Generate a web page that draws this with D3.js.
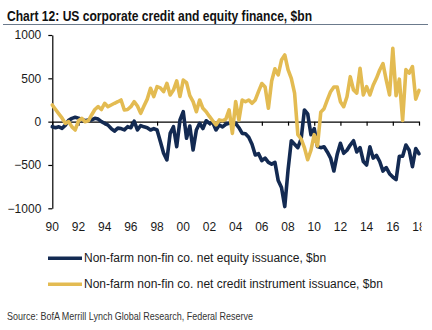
<!DOCTYPE html>
<html>
<head>
<meta charset="utf-8">
<script src="https://cdn.jsdelivr.net/npm/d3@7"></script>
<style>
  html, body { margin: 0; padding: 0; background: #ffffff; }
  svg { display: block; }
  text { font-family: "Liberation Sans", Arial, sans-serif; }
</style>
</head>
<body>
<svg id="chart" width="432" height="330"></svg>
<script>
// ---- Data (quarterly, starting 1990 Q1) ----
const startYear = 1990;
const equity = [
  -58, -70, -60, -77,      // 1990
  -40, 15, 38, 50,         // 1991
  40, 25, 10, 20,          // 1992
  20, 38, 30, 0,           // 1993
  -19, -40, -80, -110,     // 1994
  -75, -80, -95, -58,      // 1995
  -70, 5, -96, -45,        // 1996
  -60, -70, -96, -80,      // 1997
  -96, -230, -365, -442,   // 1998
  -135, -58, -288, 20,     // 1999
  115, -192, -50, -327,    // 2000
  -96, -19, -80, 10,       // 2001
  -20, -10, -96, -38,      // 2002
  -60, -30, -20, -10,      // 2003
  -20, -70, -135, -140,    // 2004
  -180, -260, -385, -370,  // 2005
  -450, -420, -470, -490,  // 2006
  -470, -680, -760, -980,  // 2007
  -560, -220, -260, -300,  // 2008
  -200, 135, 90, -150,     // 2009
  -80, -288, -300, -290,   // 2010
  -350, -420, -570, -380,  // 2011
  -250, -365, -330, -270,  // 2012
  -220, -350, -300, -460,  // 2013
  -500, -290, -420, -390,  // 2014
  -460, -570, -530, -600,  // 2015
  -640, -670, -400, -400,  // 2016
  -270, -330, -520, -310,  // 2017
  -370                     // 2018
];
const credit = [
  192, 140, 90, 40,        // 1990
  -20, 0, -60, -96,        // 1991
  10, 38, 0, 10,           // 1992
  77, 140, 173, 140,       // 1993
  212, 173, 192, 212,      // 1994
  230, 250, 135, 140,      // 1995
  173, 231, 180, 96,       // 1996
  180, 260, 385, 290,      // 1997
  404, 390, 346, 442,      // 1998
  308, 365, 470, 290,      // 1999
  480, 450, 300, 231,      // 2000
  115, 250, 154, 115,      // 2001
  60, 10, -38, 20,         // 2002
  10, 30, 135, -135,       // 2003
  231, 19, 250, 230,       // 2004
  250, 212, 250, 350,      // 2005
  440, 400, 154, 470,      // 2006
  610, 540, 711, 770,      // 2007
  600, 500, 330, -150,     // 2008
  -200, -300, -440, -330,  // 2009
  -150, -280, 110, 150,    // 2010
  250, 346, 400, 400,      // 2011
  230, 173, 288, 519,      // 2012
  365, 330, 615, 308,      // 2013
  404, 308, 420, 500,      // 2014
  596, 670, 480, 308,      // 2015
  846, 300, 490, 15,       // 2016
  600, 560, 635, 260,      // 2017
  360                      // 2018
];
const xTickYears = [1990, 1992, 1994, 1996, 1998, 2000, 2002, 2004, 2006, 2008, 2010, 2012, 2014, 2016, 2018];
const xTickLabels = ["90", "92", "94", "96", "98", "00", "02", "04", "06", "08", "10", "12", "14", "16", "18"];
const yTicks = [-1000, -500, 0, 500, 1000];
const seriesNames = [
  "Non-farm non-fin co. net equity issuance, $bn",
  "Non-farm non-fin co. net credit instrument issuance, $bn"
];
const titleText = "Chart 12: US corporate credit and equity finance, $bn";
const sourceText = "Source: BofA Merrill Lynch Global Research, Federal Reserve";

// ---- Styles ----
const navy = "#132a52";
const gold = "#e3bb52";
const textColor = "#1a1a1a";

const svg = d3.select("#chart");

// clip for the right edge (reference image is cropped at ~x=422)
const defs = svg.append("defs");
defs.append("clipPath").attr("id", "rightClip")
  .append("rect").attr("x", 0).attr("y", 0).attr("width", 421.5).attr("height", 330);

// Title
svg.append("text")
  .attr("x", 7).attr("y", 20.5)
  .attr("font-family", "'Liberation Sans Narrow', 'Arial Narrow', 'Liberation Sans', Arial, sans-serif")
  .attr("font-weight", "bold")
  .attr("font-size", 15)
  .attr("fill", "#111")
  .attr("textLength", 305)
  .attr("lengthAdjust", "spacingAndGlyphs")
  .text(titleText);

svg.append("line")
  .attr("x1", 3).attr("x2", 428).attr("y1", 24.5).attr("y2", 24.5)
  .attr("stroke", "#6b7a8c").attr("stroke-width", 1);

// Scales
const x = d3.scaleLinear().domain([1990, 2018]).range([52.3, 419]);
const y = d3.scaleLinear().domain([-1000, 1000]).range([208.3, 35]);

// Y axis
const yAxis = svg.append("g")
  .attr("transform", `translate(${x(1990)},0)`)
  .call(d3.axisLeft(y).tickValues(yTicks).tickSize(4).tickSizeOuter(0).tickPadding(7)
    .tickFormat(d3.format("d")));
yAxis.select(".domain").attr("stroke", "#000").attr("stroke-width", 1.2);
yAxis.selectAll(".tick line").attr("stroke", "#000").attr("stroke-width", 1.2);
yAxis.selectAll(".tick text")
  .attr("font-size", 12).attr("fill", textColor)
  .attr("font-family", "'Liberation Sans', Arial, sans-serif");

// X axis (at zero)
const xAxis = svg.append("g")
  .attr("transform", `translate(0,${y(0)})`)
  .call(d3.axisBottom(x).tickValues(xTickYears).tickSize(4).tickSizeOuter(0).tickFormat(""));
xAxis.select(".domain").attr("stroke", "#000").attr("stroke-width", 1.2);
xAxis.selectAll(".tick line").attr("stroke", "#000").attr("stroke-width", 1.2);

// X tick labels at the bottom
const xLab = svg.append("g").attr("clip-path", "url(#rightClip)");
xLab.selectAll("text")
  .data(xTickYears)
  .join("text")
  .attr("x", d => x(d))
  .attr("y", 230.5)
  .attr("text-anchor", "middle")
  .attr("font-size", 12)
  .attr("fill", textColor)
  .text((d, i) => xTickLabels[i]);

// Lines
const line = d3.line()
  .x((d, i) => x(startYear + i * 0.25))
  .y(d => y(d));

svg.append("path")
  .datum(equity)
  .attr("fill", "none")
  .attr("stroke", navy)
  .attr("stroke-width", 3.6)
  .attr("stroke-linejoin", "round")
  .attr("stroke-linecap", "round")
  .attr("d", line);

svg.append("path")
  .datum(credit)
  .attr("fill", "none")
  .attr("stroke", gold)
  .attr("stroke-width", 3.6)
  .attr("stroke-linejoin", "round")
  .attr("stroke-linecap", "round")
  .attr("d", line);

// Legend
const legendColors = [navy, gold];
const legendY = [258.3, 284.3];
const leg = svg.append("g");
seriesNames.forEach((name, i) => {
  leg.append("line")
    .attr("x1", 48).attr("x2", 82)
    .attr("y1", legendY[i]).attr("y2", legendY[i])
    .attr("stroke", legendColors[i]).attr("stroke-width", 3.6);
  leg.append("text")
    .attr("x", 84).attr("y", legendY[i] + 4)
    .attr("font-size", 12)
    .attr("fill", textColor)
    .text(name);
});

// Source
svg.append("text")
  .attr("x", 7).attr("y", 319.5)
  .attr("font-family", "'Liberation Sans Narrow', 'Arial Narrow', 'Liberation Sans', Arial, sans-serif")
  .attr("font-size", 10.5)
  .attr("fill", "#333")
  .attr("textLength", 246)
  .attr("lengthAdjust", "spacingAndGlyphs")
  .text(sourceText);
</script>
</body>
</html>
